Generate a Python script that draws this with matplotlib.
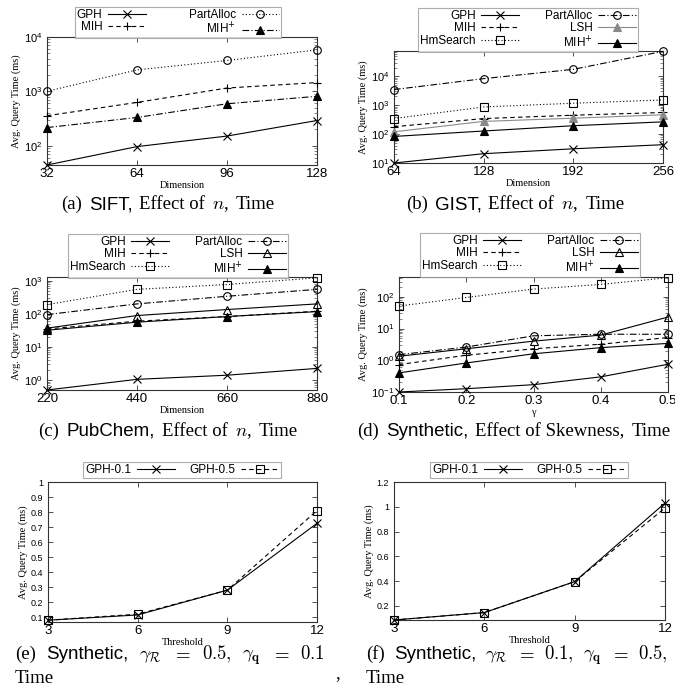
import numpy as np
import matplotlib
matplotlib.use("Agg")
import matplotlib.pyplot as plt
from matplotlib.ticker import NullFormatter, LogLocator

plt.rcParams['font.family'] = ['Liberation Sans', 'DejaVu Sans']

W, H = 675, 693
fig = plt.figure(figsize=(W / 100, H / 100), dpi=100)

# ---- data ----
dim_a = [32, 64, 96, 128]
a_gph = [44, 96, 150, 290]
a_mih = [355, 625, 1150, 1450]
a_mihp = [215, 330, 590, 810]
a_part = [1000, 2480, 3700, 5800]

dim_b = [64, 128, 192, 256]
b_gph = [10, 21, 31, 43]
b_mih = [180, 345, 450, 560]
b_hm = [345, 870, 1170, 1520]
b_part = [3470, 8300, 17400, 73000]
b_lsh = [120, 275, 355, 465]
b_mihp = [83, 128, 195, 265]

dim_c = [220, 440, 660, 880]
c_gph = [0.5, 1.05, 1.4, 2.25]
c_mih = [35, 60, 83, 120]
c_hm = [190, 550, 770, 1230]
c_part = [95, 200, 340, 550]
c_lsh = [37, 89, 135, 200]
c_mihp = [32, 56, 83, 117]

gamma_d = [0.1, 0.2, 0.3, 0.4, 0.5]
d_gph = [0.1, 0.127, 0.17, 0.30, 0.75]
d_mih = [0.73, 1.44, 2.3, 3.2, 5.2]
d_hm = [51, 95, 175, 245, 400]
d_part = [1.5, 2.6, 5.9, 6.6, 6.6]
d_lsh = [1.34, 2.3, 4.0, 6.2, 23]
d_mihp = [0.40, 0.82, 1.6, 2.5, 3.4]

thr = [3, 6, 9, 12]
e_gph01 = [0.08, 0.115, 0.28, 0.725]
e_gph05 = [0.08, 0.12, 0.28, 0.81]
f_gph01 = [0.085, 0.145, 0.395, 1.03]
f_gph05 = [0.085, 0.145, 0.395, 0.99]

SERIF = 'Liberation Serif'
SANS = 'Liberation Sans'
DASH = (0, (4, 3))
DOT = (0, (1, 2))
DASHDOT = (0, (6, 2, 1, 2))
MIHP = r'MIH$^{+}$'


def px_axes(l, t, r, b):
    ax = fig.add_axes([l / W, 1 - b / H, (r - l) / W, (b - t) / H])
    for s in ax.spines.values():
        s.set_color('#333333')
        s.set_linewidth(0.8)
    ax.tick_params(direction='in', top=True, right=True, length=3.5, width=0.6,
                   colors='#333333', labelcolor='black', pad=2)
    ax.tick_params(axis='y', pad=3.5)
    ax.tick_params(which='minor', direction='in', top=True, right=True,
                   length=2, width=0.5, colors='#555555')
    return ax


def line(ax, x, y, ls, mk, label, color='black', filled=False):
    ax.plot(x, y, linestyle=ls, color=color, lw=0.8, marker=mk, ms=5.5,
            mew=0.8, mfc=color if filled else 'none', mec=color, label=label,
            clip_on=False, zorder=3)


def legend(ax, cx, top, ncol=2, colsp=2.2):
    lg = ax.legend(loc='upper center', bbox_to_anchor=(cx / W, 1 - top / H),
                   bbox_transform=fig.transFigure, ncol=ncol, markerfirst=False,
                   fontsize=8.5, frameon=True, fancybox=False, borderpad=0.15,
                   labelspacing=0.05, handlelength=3.2, handletextpad=0.5,
                   columnspacing=colsp, borderaxespad=0)
    lg.get_frame().set_edgecolor('#999999')
    lg.get_frame().set_linewidth(0.8)


def labels(ax, xl):
    ax.set_xlabel(xl, family=SERIF, size=7.5, labelpad=1)
    ax.set_ylabel('Avg. Query Time (ms)', family=SERIF, size=7.5, labelpad=2)


def logy(ax, lo, hi):
    ax.set_yscale('log')
    ax.set_ylim(lo, hi)
    ax.yaxis.set_minor_locator(LogLocator(subs=np.arange(2, 10)))
    ax.yaxis.set_minor_formatter(NullFormatter())
    ax.tick_params(axis='y', labelsize=8)
    ax.tick_params(axis='x', labelsize=9.5)


# (a)
ax = px_axes(47, 37, 317, 165)
line(ax, dim_a, a_gph, '-', 'x', 'GPH')
line(ax, dim_a, a_mih, DASH, '+', 'MIH')
line(ax, dim_a, a_part, DOT, 'o', 'PartAlloc')
line(ax, dim_a, a_mihp, DASHDOT, '^', MIHP, filled=True)
logy(ax, 44, 1e4)
ax.set_xlim(32, 128)
ax.set_xticks(dim_a)
labels(ax, 'Dimension')
legend(ax, 178, 7, colsp=3.6)

# (b)
ax = px_axes(394, 51, 663, 163)
line(ax, dim_b, b_gph, '-', 'x', 'GPH')
line(ax, dim_b, b_mih, DASH, '+', 'MIH')
line(ax, dim_b, b_hm, DOT, 's', 'HmSearch')
line(ax, dim_b, b_part, DASHDOT, 'o', 'PartAlloc')
line(ax, dim_b, b_lsh, '-', '^', 'LSH', color='#8a8a8a', filled=True)
line(ax, dim_b, b_mihp, '-', '^', MIHP, filled=True)
logy(ax, 10, 7.5e4)
ax.set_xlim(64, 256)
ax.set_xticks(dim_b)
labels(ax, 'Dimension')
legend(ax, 528, 8)

# (c)
ax = px_axes(47, 277, 317, 390)
line(ax, dim_c, c_gph, '-', 'x', 'GPH')
line(ax, dim_c, c_mih, DASH, '+', 'MIH')
line(ax, dim_c, c_hm, DOT, 's', 'HmSearch')
line(ax, dim_c, c_part, DASHDOT, 'o', 'PartAlloc')
line(ax, dim_c, c_lsh, '-', '^', 'LSH')
line(ax, dim_c, c_mihp, '-', '^', MIHP, filled=True)
logy(ax, 0.5, 1.3e3)
ax.set_xlim(220, 880)
ax.set_xticks(dim_c)
labels(ax, 'Dimension')
legend(ax, 178, 234)

# (d)
ax = px_axes(399, 277, 668, 392)
line(ax, gamma_d, d_gph, '-', 'x', 'GPH')
line(ax, gamma_d, d_mih, DASH, '+', 'MIH')
line(ax, gamma_d, d_hm, DOT, 's', 'HmSearch')
line(ax, gamma_d, d_part, DASHDOT, 'o', 'PartAlloc')
line(ax, gamma_d, d_lsh, '-', '^', 'LSH')
line(ax, gamma_d, d_mihp, '-', '^', MIHP, filled=True)
logy(ax, 0.1, 420)
ax.set_xlim(0.1, 0.5)
ax.set_xticks(gamma_d)
labels(ax, 'γ')
legend(ax, 530, 233)

# (e)
ax = px_axes(48, 482, 317, 622)
line(ax, thr, e_gph01, '-', 'x', 'GPH-0.1')
line(ax, thr, e_gph05, DASH, 's', 'GPH-0.5')
ax.set_xlim(3, 12)
ax.set_ylim(0.068, 1.0)
ax.set_xticks(thr)
ax.set_yticks(np.round(np.arange(0.1, 1.01, 0.1), 1))
ax.set_yticklabels(['0.1', '0.2', '0.3', '0.4', '0.5', '0.6', '0.7', '0.8', '0.9', '1'])
ax.tick_params(axis='y', labelsize=6.5)
ax.tick_params(axis='x', labelsize=9.5)
labels(ax, 'Threshold')
legend(ax, 182, 462, colsp=1.2)

# (f)
ax = px_axes(394, 482, 665, 620)
line(ax, thr, f_gph01, '-', 'x', 'GPH-0.1')
line(ax, thr, f_gph05, DASH, 's', 'GPH-0.5')
ax.set_xlim(3, 12)
ax.set_ylim(0.085, 1.2)
ax.set_xticks(thr)
ax.set_yticks([0.2, 0.4, 0.6, 0.8, 1.0, 1.2])
ax.set_yticklabels(['0.2', '0.4', '0.6', '0.8', '1', '1.2'])
ax.tick_params(axis='y', labelsize=6.5)
ax.tick_params(axis='x', labelsize=9.5)
labels(ax, 'Threshold')
legend(ax, 529, 462, colsp=1.2)

# ---- captions: word pieces in mixed fonts, laid out left to right ----
renderer = fig.canvas.get_renderer()
sf = dict(family=SANS)
rm = dict(family=SERIF)
mt = dict(family=SERIF, math_fontfamily='cm')


def caption(pieces, y, cx=None, x0=None, x1=None, gap=7, size=13.5):
    texts = [fig.text(0, 1 - y / H, s, size=size, va='baseline', **kw)
             for s, kw in pieces]
    widths = [t.get_window_extent(renderer).width for t in texts]
    total = sum(widths)
    if x1 is not None:
        gap = (x1 - x0 - total) / (len(texts) - 1)
    elif cx is not None:
        x0 = cx - (total + gap * (len(texts) - 1)) / 2
    x = x0
    for t, w in zip(texts, widths):
        t.set_x(x / W)
        x += w + gap


caption([('(a)', rm), ('SIFT,', sf), ('Effect of', rm), (r'$n$,', mt), ('Time', rm)],
        209, cx=168)
caption([('(b)', rm), ('GIST,', sf), ('Effect of', rm), (r'$n$,', mt), ('Time', rm)],
        209, cx=515)
caption([('(c)', rm), ('PubChem,', sf), ('Effect of', rm), (r'$n$,', mt), ('Time', rm)],
        436, cx=168)
caption([('(d)', rm), ('Synthetic,', sf), ('Effect of Skewness,', rm), ('Time', rm)],
        436, cx=514)
caption([('(e)', rm), ('Synthetic,', sf), (r'$\gamma_{\mathcal{R}}$', mt), (r'$=$', mt),
         (r'$0.5,$', mt), (r'$\gamma_{\mathbf{q}}$', mt), (r'$=$', mt), (r'$0.1$', mt)],
        659, x0=15, x1=325)
caption([('Time', rm)], 683, x0=15)
caption([('(f)', rm), ('Synthetic,', sf), (r'$\gamma_{\mathcal{R}}$', mt), (r'$=$', mt),
         (r'$0.1,$', mt), (r'$\gamma_{\mathbf{q}}$', mt), (r'$=$', mt), (r'$0.5,$', mt)],
        659, x0=366, x1=668)
caption([('Time', rm)], 683, x0=366)
caption([(',', rm)], 678, x0=335)

fig.savefig('out.png', dpi=100)
